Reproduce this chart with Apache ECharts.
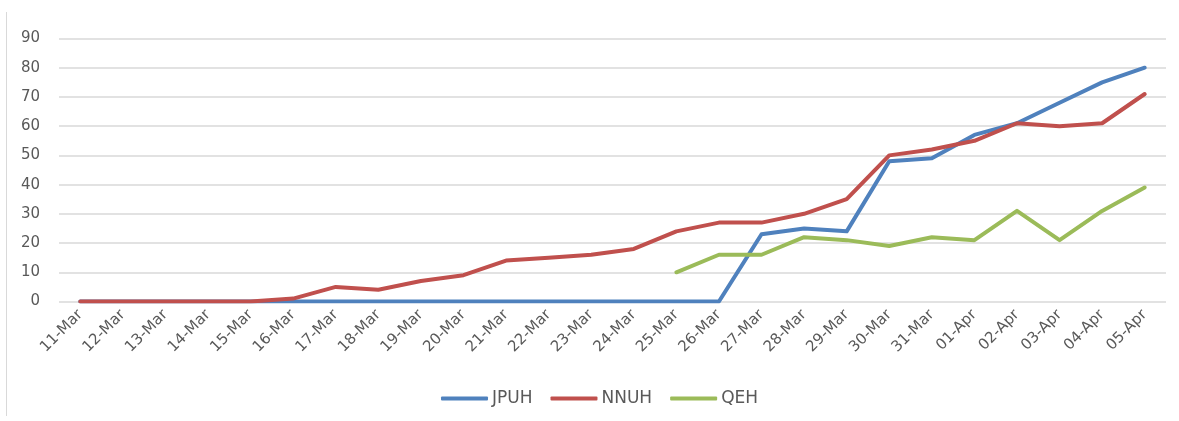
<!DOCTYPE html>
<html>
<head>
<meta charset="utf-8">
<script src="https://cdn.jsdelivr.net/npm/echarts@6/dist/echarts.min.js"></script>
<style>html,body{margin:0;padding:0;background:#fff}#c{width:1179px;height:421px}</style>
</head>
<body>
<div id="c"></div>
<script>
const categories = ['11-Mar','12-Mar','13-Mar','14-Mar','15-Mar','16-Mar','17-Mar','18-Mar','19-Mar','20-Mar','21-Mar','22-Mar','23-Mar','24-Mar','25-Mar','26-Mar','27-Mar','28-Mar','29-Mar','30-Mar','31-Mar','01-Apr','02-Apr','03-Apr','04-Apr','05-Apr'];
const jpuh = [0,0,0,0,0,0,0,0,0,0,0,0,0,0,0,0,23,25,24,48,49,57,61,68,75,80];
const nnuh = [0,0,0,0,0,1,5,4,7,9,14,15,16,18,24,27,27,30,35,50,52,55,61,60,61,71];
const qeh = [null,null,null,null,null,null,null,null,null,null,null,null,null,null,10,16,16,22,21,19,22,21,31,21,31,39];
const yTicks = [0,10,20,30,40,50,60,70,80,90];

const font = 'DejaVu Sans';
const chart = echarts.init(document.getElementById('c'), null, {renderer: 'canvas'});
function mk(name, data, color) {
  return {
    name, type: 'line', data, symbol: 'none', smooth: false, connectNulls: false,
    lineStyle: {color, width: 4, cap: 'round', join: 'round'},
    itemStyle: {color}, z: 3
  };
}
chart.setOption({
  animation: false,
  backgroundColor: '#fff',
  textStyle: {fontFamily: font},
  graphic: [{
    type: 'line', shape: {x1: 6.5, y1: 12, x2: 6.5, y2: 416},
    style: {stroke: '#d9d9d9', lineWidth: 1}
  }],
  grid: {left: 59, right: 13, top: 38.5, bottom: 119.5, containLabel: false},
  legend: {
    bottom: 9, left: 436,
    itemWidth: 47, itemHeight: 4, itemGap: 18,
    icon: 'roundRect',
    textStyle: {color: '#595959', fontSize: 17, fontFamily: font, padding: [0,0,0,-1]},
    data: ['JPUH','NNUH','QEH']
  },
  xAxis: {
    type: 'category', data: categories, boundaryGap: true,
    axisLine: {show: false}, axisTick: {show: false},
    axisLabel: {rotate: 45, color: '#595959', fontSize: 15, margin: 11, interval: 0, fontFamily: font}
  },
  yAxis: {
    type: 'value', min: yTicks[0], max: yTicks[yTicks.length-1], interval: 10,
    axisLine: {show: false}, axisTick: {show: false},
    axisLabel: {color: '#595959', fontSize: 15, margin: 19, fontFamily: font},
    splitLine: {lineStyle: {color: '#d9d9d9', width: 1.5}}
  },
  series: [mk('JPUH', jpuh, '#4F81BD'), mk('NNUH', nnuh, '#C0504D'), mk('QEH', qeh, '#9BBB59')]
});
</script>
</body>
</html>
